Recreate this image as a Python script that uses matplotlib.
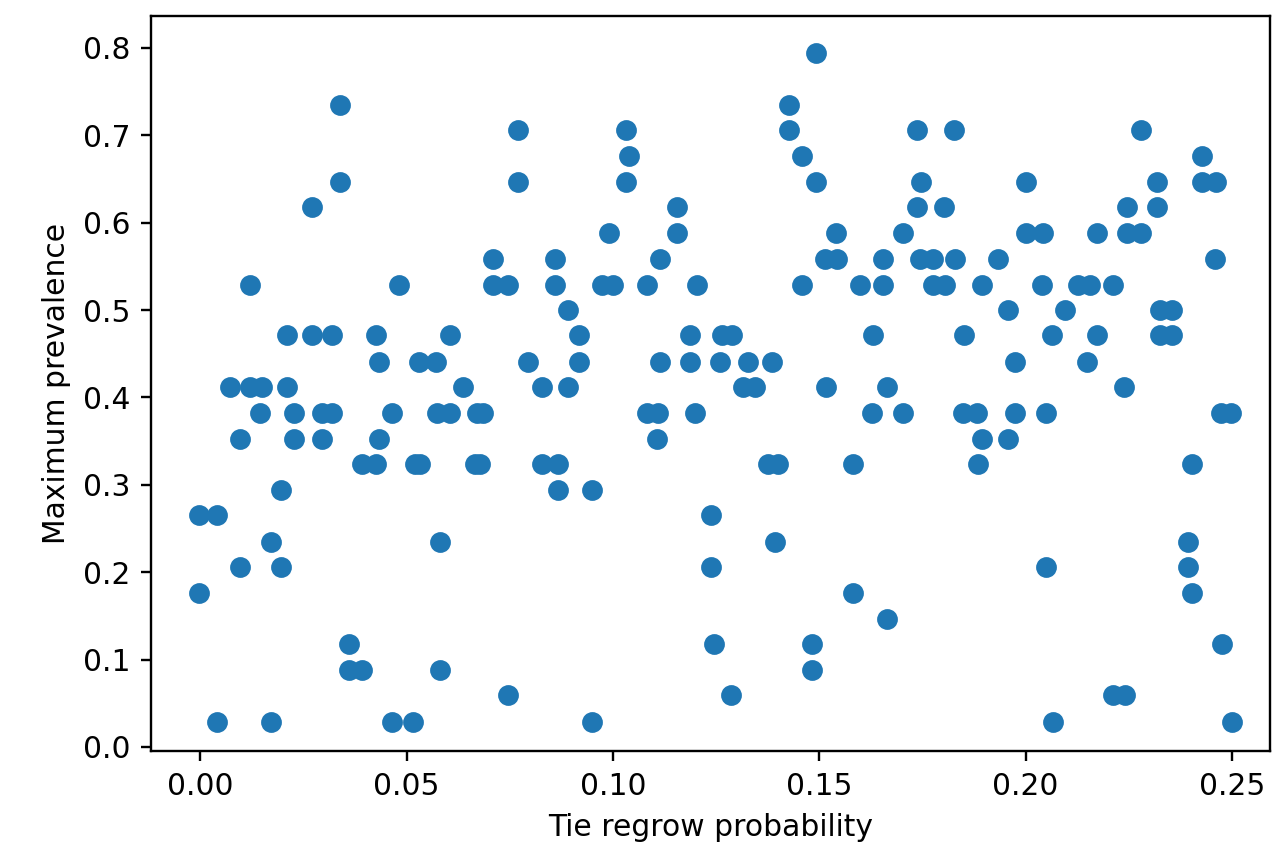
import matplotlib
matplotlib.use("Agg")
import matplotlib.pyplot as plt

# each list holds the x positions (tie regrow probability) of points sharing one y level
y_levels = [0.029, 0.059, 0.088, 0.118, 0.147, 0.176, 0.206, 0.235, 0.265, 0.294,
            0.324, 0.353, 0.382, 0.412, 0.441, 0.471, 0.500, 0.529, 0.559, 0.588,
            0.618, 0.647, 0.676, 0.706, 0.735, 0.794]

x_at_029 = [0.0041, 0.0172, 0.0465, 0.0516, 0.0950, 0.2066, 0.2500]
x_at_059 = [0.0746, 0.1286, 0.2212, 0.2241]
x_at_088 = [0.0361, 0.0392, 0.0581, 0.1483]
x_at_118 = [0.0361, 0.1245, 0.1483, 0.2476]
x_at_147 = [0.1664]
x_at_176 = [-0.0002, 0.1582, 0.2403]
x_at_206 = [0.0097, 0.0196, 0.1238, 0.2049, 0.2393]
x_at_235 = [0.0172, 0.0581, 0.1393, 0.2393]
x_at_265 = [-0.0002, 0.0041, 0.1238]
x_at_294 = [0.0196, 0.0867, 0.0950]
x_at_324 = [0.0392, 0.0426, 0.0521, 0.0533, 0.0666, 0.0678, 0.0828, 0.0867,
            0.1376, 0.1400, 0.1582, 0.1885, 0.2403]
x_at_353 = [0.0097, 0.0228, 0.0296, 0.0434, 0.1107, 0.1894, 0.1957]
x_at_382 = [0.0145, 0.0228, 0.0296, 0.0320, 0.0465, 0.0574, 0.0606, 0.0671, 0.0686,
            0.1083, 0.1109, 0.1199, 0.1628, 0.1703, 0.1848, 0.1882, 0.1974, 0.2049,
            0.2473, 0.2498]
x_at_412 = [0.0073, 0.0121, 0.0150, 0.0211, 0.0637, 0.0828, 0.0891, 0.1315, 0.1344,
            0.1516, 0.1664, 0.2238]
x_at_441 = [0.0434, 0.0531, 0.0572, 0.0795, 0.0918, 0.1114, 0.1187, 0.1260, 0.1328,
            0.1386, 0.1974, 0.2149]
x_at_471 = [0.0211, 0.0271, 0.0320, 0.0426, 0.0606, 0.0918, 0.1187, 0.1265, 0.1289,
            0.1630, 0.1851, 0.2064, 0.2173, 0.2326, 0.2355]
x_at_500 = [0.0891, 0.1957, 0.2095, 0.2326, 0.2355]
x_at_529 = [0.0121, 0.0482, 0.0710, 0.0746, 0.0860, 0.0974, 0.1000, 0.1083, 0.1204,
            0.1458, 0.1599, 0.1655, 0.1776, 0.1805, 0.1894, 0.2040, 0.2127, 0.2156,
            0.2212]
x_at_559 = [0.0710, 0.0860, 0.1114, 0.1514, 0.1543, 0.1655, 0.1744, 0.1776, 0.1829,
            0.1933, 0.2459]
x_at_588 = [0.0991, 0.1156, 0.1541, 0.1703, 0.2001, 0.2042, 0.2173, 0.2246, 0.2280]
x_at_618 = [0.0271, 0.1156, 0.1737, 0.1802, 0.2246, 0.2318]
x_at_647 = [0.0339, 0.0770, 0.1032, 0.1492, 0.1747, 0.2001, 0.2318, 0.2427, 0.2461]
x_at_676 = [0.1039, 0.1458, 0.2427]
x_at_706 = [0.0770, 0.1032, 0.1427, 0.1737, 0.1827, 0.2280]
x_at_735 = [0.0339, 0.1427]
x_at_794 = [0.1492]

x_groups = [x_at_029, x_at_059, x_at_088, x_at_118, x_at_147, x_at_176, x_at_206,
            x_at_235, x_at_265, x_at_294, x_at_324, x_at_353, x_at_382, x_at_412,
            x_at_441, x_at_471, x_at_500, x_at_529, x_at_559, x_at_588, x_at_618,
            x_at_647, x_at_676, x_at_706, x_at_735, x_at_794]

x = []
y = []
for level, xs in zip(y_levels, x_groups):
    x.extend(xs)
    y.extend([level] * len(xs))

W, H = 1283, 863
dpi = 213.8
fig = plt.figure(figsize=(W / dpi, H / dpi), dpi=dpi)
ax = fig.add_axes([151 / W, (H - 751) / H, (1270 - 151) / W, (751 - 16) / H])

ax.scatter(x, y)
ax.set_xlim(-0.0119, 0.2592)
ax.set_ylim(-0.0046, 0.8366)
ax.set_xlabel("Tie regrow probability")
ax.set_ylabel("Maximum prevalence")

fig.savefig("out.png", dpi=dpi)
